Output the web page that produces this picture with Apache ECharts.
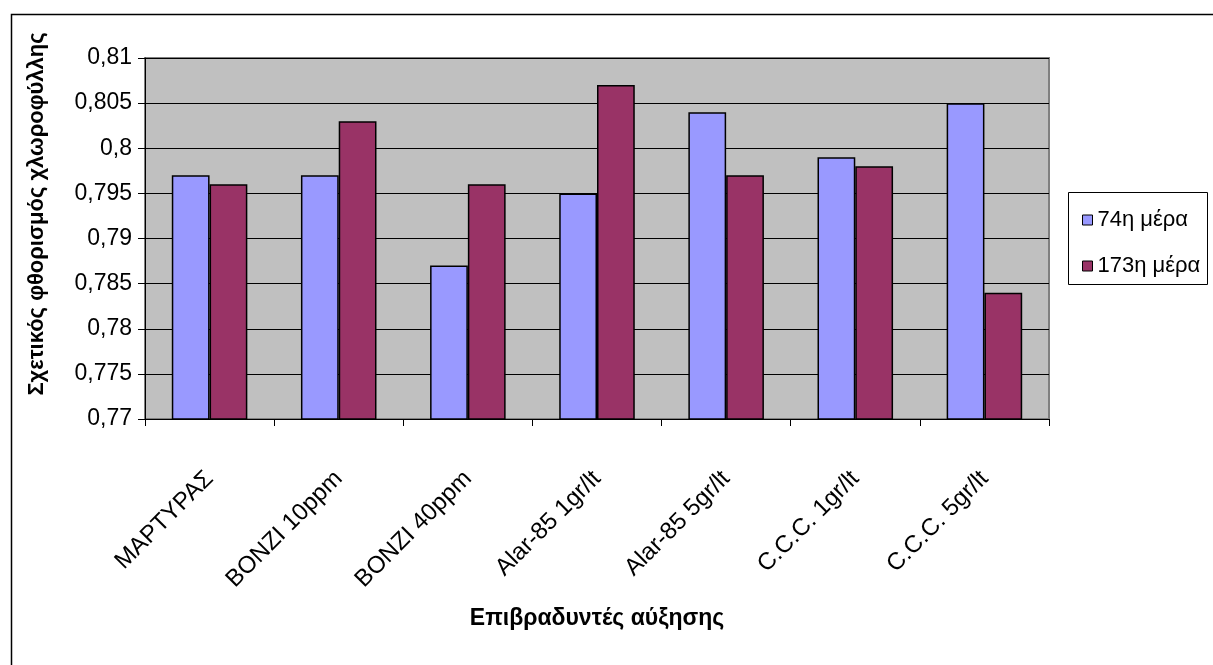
<!DOCTYPE html>
<html>
<head>
<meta charset="utf-8">
<style>
  html, body { margin: 0; padding: 0; background: #fff; }
  #chart { width: 1213px; height: 665px; }
</style>
<script src="https://cdn.jsdelivr.net/npm/echarts@6/dist/echarts.min.js"></script>
</head>
<body>
<div id="chart"></div>
<script>
// Growth retardant treatments
const categories = ['ΜΑΡΤΥΡΑΣ', 'BONZI 10ppm', 'BONZI 40ppm', 'Alar-85 1gr/lt', 'Alar-85 5gr/lt', 'C.C.C. 1gr/lt', 'C.C.C. 5gr/lt'];
// Relative chlorophyll fluorescence per sampling day
const day74 = [0.797, 0.797, 0.787, 0.795, 0.804, 0.799, 0.805];
const day173 = [0.796, 0.803, 0.796, 0.807, 0.797, 0.798, 0.784];
const seriesNames = ['74η μέρα', '173η μέρα'];
const yMin = 0.77, yMax = 0.81, yStep = 0.005;

const FONT = 'Liberation Sans, Arial, sans-serif';
const chart = echarts.init(document.getElementById('chart'), null, { renderer: 'canvas' });

const barStyle = (color) => ({ color: color, borderColor: '#000', borderWidth: 1.5 });

chart.setOption({
  animation: false,
  backgroundColor: '#fff',
  grid: { left: 145, right: 164, top: 58, bottom: 246, show: true, backgroundColor: '#C0C0C0', borderColor: '#808080', borderWidth: 2 },
  legend: {
    orient: 'vertical',
    left: 1077, top: 204,
    itemWidth: 10, itemHeight: 10, itemGap: 24,
    icon: 'rect',
    itemStyle: { borderColor: '#000', borderWidth: 1 },
    textStyle: { fontFamily: FONT, fontSize: 22, color: '#000' },
    data: seriesNames
  },
  xAxis: {
    type: 'category',
    data: categories,
    boundaryGap: true,
    axisLine: { lineStyle: { color: '#000', width: 1 } },
    axisTick: { show: true, length: 7, lineStyle: { color: '#000' } },
    axisLabel: { rotate: 45, margin: 56, fontFamily: FONT, fontSize: 24, color: '#000', interval: 0 },
    splitLine: { show: false }
  },
  yAxis: {
    type: 'value',
    min: yMin, max: yMax, interval: yStep,
    axisLine: { show: true, lineStyle: { color: '#000', width: 1 } },
    axisTick: { show: true, inside: false, length: 7, lineStyle: { color: '#000' } },
    axisLabel: {
      margin: 13, fontFamily: FONT, fontSize: 23, color: '#000',
      formatter: (v) => String(parseFloat(v.toFixed(3))).replace('.', ',')
    },
    splitLine: { show: true, lineStyle: { color: '#000', width: 1 } }
  },
  series: [
    { name: seriesNames[0], type: 'bar', data: day74, barGap: '0%', barCategoryGap: '41.5%', itemStyle: barStyle('#9999FF') },
    { name: seriesNames[1], type: 'bar', data: day173, itemStyle: barStyle('#993366') }
  ],
  graphic: [
    { type: 'rect', left: 9, top: 12, shape: { width: 1220, height: 680 }, style: { fill: 'none', stroke: '#000', lineWidth: 1.5 }, silent: true, z: -1 },
    { type: 'rect', left: 1068, top: 192, shape: { width: 139, height: 92 }, style: { fill: '#fff', stroke: '#000', lineWidth: 1 }, silent: true, z: -1 },
    {
      type: 'text', x: 37, y: 214, rotation: Math.PI / 2,
      style: { text: 'Σχετικός φθορισμός χλωροφύλλης', font: 'bold 22px ' + FONT, fill: '#000', align: 'center', verticalAlign: 'middle' }
    },
    {
      type: 'text', x: 597, y: 619,
      style: { text: 'Επιβραδυντές αύξησης', font: 'bold 23px ' + FONT, fill: '#000', align: 'center', verticalAlign: 'middle' }
    }
  ]
});
</script>
</body>
</html>
